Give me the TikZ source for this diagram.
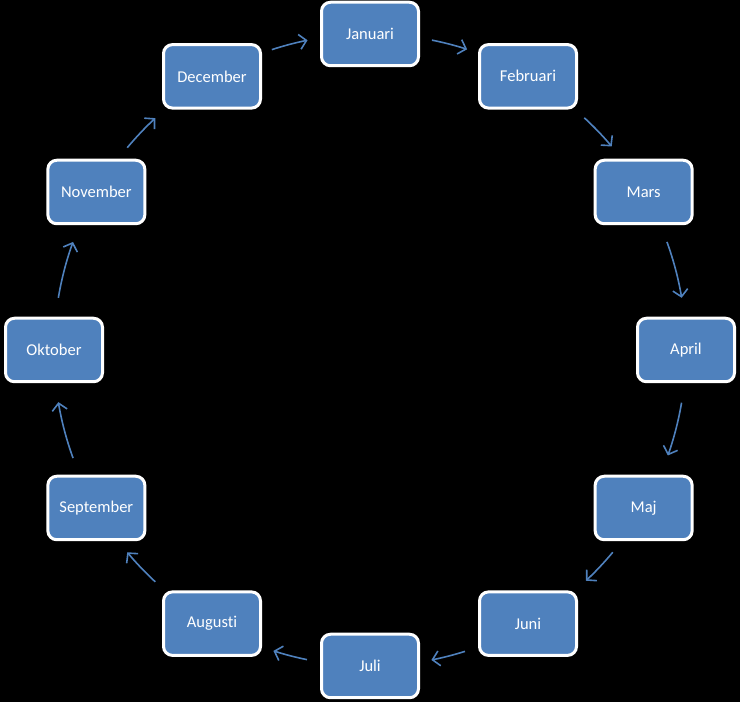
\documentclass[tikz,border=0pt]{standalone}
\usepackage{fontspec}
\setmainfont{Carlito}[Ligatures={NoCommon}]
\usetikzlibrary{arrows.meta,calc}
\definecolor{boxblue}{HTML}{4F81BD}
\tikzset{
  month/.style={draw=white, line width=3pt, fill=boxblue, rounded corners=9pt,
    minimum width=97pt, minimum height=63.5pt, text=white, font=\fontsize{16.5pt}{18pt}\selectfont, inner sep=0pt},
  cyc/.style={draw=boxblue, line width=1.6pt, -{Straight Barb[length=7pt,width=15pt,line width=1.6pt]}}
}
\newcommand{\cycarc}[2]{\draw[cyc] ($(c)+(#1:316)$) arc[start angle=#1, end angle=#2, radius=316];}
\begin{document}
\begin{tikzpicture}[x=1pt,y=1pt]
\fill[black] (0,0) rectangle (740,702);
\useasboundingbox (0,0) rectangle (740,702);
\coordinate (c) at (370,352);
\node[month] (jan) at ($(c)+(90:316)$) {Januari};
\node[month] (feb) at ($(c)+(60:316)$) {Februari};
\node[month] (mar) at ($(c)+(30:316)$) {Mars};
\node[month] (apr) at ($(c)+(0:316)$) {April};
\node[month] (maj) at ($(c)+(-30:316)$) {Maj};
\node[month] (jun) at ($(c)+(-60:316)$) {Juni};
\node[month] (jul) at ($(c)+(-90:316)$) {Juli};
\node[month] (aug) at ($(c)+(-120:316)$) {Augusti};
\node[month] (sep) at ($(c)+(-150:316)$) {September};
\node[month] (okt) at ($(c)+(180:316)$) {Oktober};
\node[month] (nov) at ($(c)+(150:316)$) {November};
\node[month] (dec) at ($(c)+(120:316)$) {December};
\cycarc{78.7}{72.1}
\cycarc{47.3}{40.1}
\cycarc{20}{9.5}
\cycarc{-9.6}{-19.5}
\cycarc{-39.8}{-46.9}
\cycarc{-72.5}{-78.8}
\cycarc{-101.5}{-107.8}
\cycarc{-132.8}{-140.2}
\cycarc{-160}{-170.5}
\cycarc{170.5}{160}
\cycarc{140.2}{132.8}
\cycarc{108.1}{101.4}
\end{tikzpicture}
\end{document}
